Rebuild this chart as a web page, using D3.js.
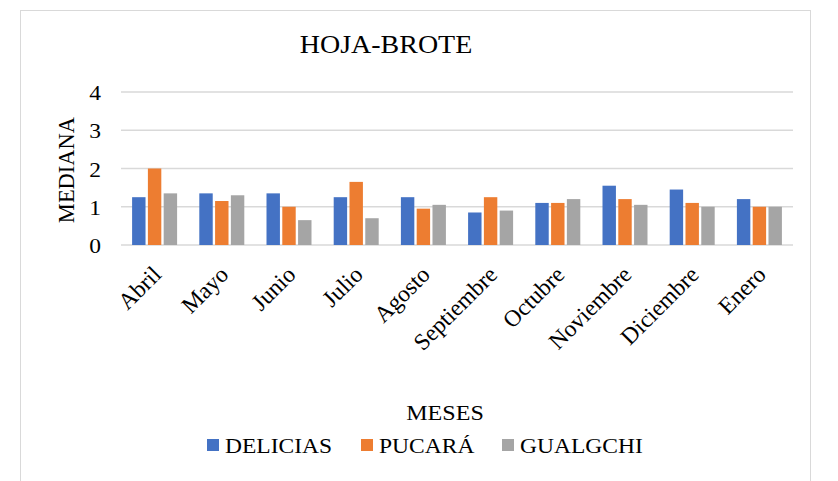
<!DOCTYPE html>
<html>
<head>
<meta charset="utf-8">
<script src="https://cdn.jsdelivr.net/npm/d3@7"></script>
<style>
  body { margin: 0; background: #fff; }
</style>
</head>
<body>
<svg id="chart" width="838" height="481"></svg>
<script>
const months = ['Abril', 'Mayo', 'Junio', 'Julio', 'Agosto', 'Septiembre', 'Octubre', 'Noviembre', 'Diciembre', 'Enero'];
const seriesNames = ['DELICIAS', 'PUCARÁ', 'GUALGCHI'];
const delicias = [1.25, 1.35, 1.35, 1.25, 1.25, 0.85, 1.1, 1.55, 1.45, 1.2];
const pucara = [2.0, 1.15, 1.0, 1.65, 0.95, 1.25, 1.1, 1.2, 1.1, 1.0];
const gualgchi = [1.35, 1.3, 0.65, 0.7, 1.05, 0.9, 1.2, 1.05, 1.0, 1.0];
const yTicks = [0, 1, 2, 3, 4];
const colors = ['#4472c4', '#ed7d31', '#a5a5a5'];

// the source picture is a little stretched sideways
const stretch = 1.12;

const svg = d3.select('#chart')
    .attr('font-family', "'Liberation Serif', 'DejaVu Serif', serif");

// outer chart frame
svg.append('rect')
    .attr('x', 20.5).attr('y', 10.5)
    .attr('width', 790).attr('height', 480)
    .attr('fill', '#fff')
    .attr('stroke', '#d9d9d9');

const x = d3.scaleBand().domain(months).range([121, 793]);
const y = d3.scaleLinear().domain([0, 4]).range([245, 92]);
const inner = d3.scaleBand().domain(seriesNames).range([0, 45]).paddingInner(0.15);

// gridlines
svg.append('g')
    .selectAll('line')
    .data(yTicks)
    .enter()
    .append('line')
    .attr('x1', 121).attr('x2', 793)
    .attr('y1', d => y(d)).attr('y2', d => y(d))
    .attr('stroke', '#d9d9d9')
    .attr('stroke-width', 1.5);

// y tick labels
svg.append('g')
    .selectAll('text')
    .data(yTicks)
    .enter()
    .append('text')
    .attr('transform', d => `translate(101,${y(d) + 8}) scale(${stretch},1)`)
    .attr('text-anchor', 'end')
    .attr('font-size', 21)
    .text(d => d);

// bars
const series = [delicias, pucara, gualgchi];
const groupOffset = (x.bandwidth() - 45) / 2;
series.forEach((vals, si) => {
    svg.append('g')
        .selectAll('rect')
        .data(vals)
        .enter()
        .append('rect')
        .attr('x', (d, i) => x(months[i]) + groupOffset + inner(seriesNames[si]))
        .attr('y', d => y(d))
        .attr('width', inner.bandwidth())
        .attr('height', d => y(0) - y(d))
        .attr('fill', colors[si]);
});

// x labels, rotated
svg.append('g')
    .selectAll('text')
    .data(months)
    .enter()
    .append('text')
    .attr('transform', d => `translate(${x(d) + x.bandwidth() / 2 + 8},${276}) rotate(-45)`)
    .attr('text-anchor', 'end')
    .attr('font-size', 23.5)
    .text(d => d);

// title
svg.append('text')
    .attr('transform', `translate(386,53) scale(${stretch},1)`)
    .attr('text-anchor', 'middle')
    .attr('font-size', 25)
    .text('HOJA-BROTE');

// y axis title
svg.append('text')
    .attr('transform', 'translate(74,170) rotate(-90)')
    .attr('text-anchor', 'middle')
    .attr('font-size', 22.5)
    .text('MEDIANA');

// x axis title
svg.append('text')
    .attr('transform', `translate(445,420) scale(${stretch},1)`)
    .attr('text-anchor', 'middle')
    .attr('font-size', 21.5)
    .text('MESES');

// legend
const legendX = [207, 361, 502];
const legend = svg.append('g')
    .selectAll('g')
    .data(seriesNames)
    .enter()
    .append('g')
    .attr('transform', (d, i) => `translate(${legendX[i]},439)`);
legend.append('rect')
    .attr('width', 12).attr('height', 12)
    .attr('fill', (d, i) => colors[i]);
legend.append('text')
    .attr('transform', `translate(18,13.5) scale(${stretch},1)`)
    .attr('font-size', 21)
    .text(d => d);
</script>
</body>
</html>
